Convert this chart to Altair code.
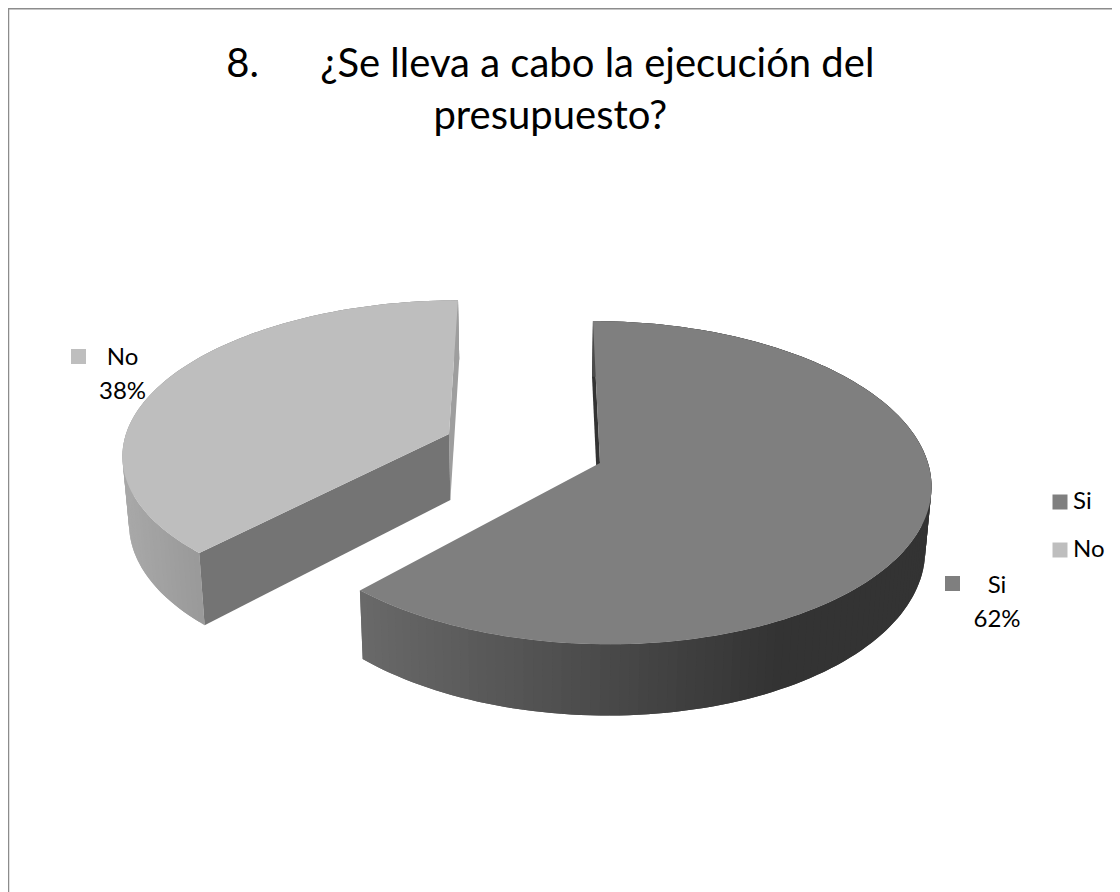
import math
import altair as alt

categories = ["Si", "No"]
values = [62, 38]
title_lines = ["8.\u00a0\u00a0\u00a0\u00a0\u00a0\u00a0¿Se lleva a cabo la ejecución del", "presupuesto?"]

W, H = 1104, 884
FONT = "Lato"
VX, VY = 535.0, -842.0   # vanishing point of the tilted pie
SHRINK = 0.016


def lerp_stops(x, stops):
    if x <= stops[0][0]:
        return stops[0][1]
    for (a, va), (b, vb) in zip(stops, stops[1:]):
        if x <= b:
            return va + (vb - va) * (x - a) / (b - a)
    return stops[-1][1]


def grey(v):
    v = int(round(v))
    return f"#{v:02x}{v:02x}{v:02x}"


def slice_geometry(a0, a1, ax, ay, R, depth, P):
    def top(deg):
        t = math.radians(deg)
        u, v = math.sin(t), -math.cos(t)
        w = 1 - P * v
        return (VX + (ax - VX + R * u) / w, VY + (ay - VY) / w, depth / w)

    def low(pt):
        return (VX + (pt[0] - VX) * (1 - SHRINK), pt[1] + pt[2])

    n = int((a1 - a0) / 1.5) + 1
    angles = [a0 + (a1 - a0) * i / n for i in range(n + 1)]
    rim = [top(a) for a in angles]
    apex = (ax, ay, depth)
    return apex, rim, low


def feature(points, fill, cat=None):
    pts = [[round(p[0], 2), round(p[1], 2)] for p in points]
    pts.append(pts[0])
    return {
        "type": "Feature",
        "geometry": {"type": "Polygon", "coordinates": [pts]},
        "properties": {"fill": fill, "cat": cat or ""},
    }


def rim_strips(rim, low, stops):
    out = []
    for i in range(len(rim) - 1):
        a, b = rim[i], rim[i + 1]
        c = rim[min(i + 2, len(rim) - 1)]  # overlap the next strip so no seam shows
        out.append(feature([a, b, c, low(c), low(b), low(a)], grey(lerp_stops((a[0] + b[0]) / 2, stops))))
    return out


cuts = [0.0, values[0] / sum(values) * 360, 360.0]

si_apex, si_rim, si_low = slice_geometry(cuts[0], cuts[1], 600, 463, 328, 62.5, 0.122)
no_apex, no_rim, no_low = slice_geometry(cuts[1], cuts[2], 449, 434, 323, 66, 0.117)

si_stops = [(360, 0x69), (640, 0x45), (780, 0x33), (940, 0x33)]
no_stops = [(120, 0xa9), (205, 0x98), (460, 0x98)]

walls = [feature([si_apex, si_rim[0], si_low(si_rim[0]), si_low(si_apex)], "#333333")]
walls += rim_strips(si_rim, si_low, si_stops)
walls += rim_strips(no_rim, no_low, no_stops)
walls.append(feature([no_apex, no_rim[-1], no_low(no_rim[-1]), no_low(no_apex)], "#9e9e9e"))
walls.append(feature([no_apex, no_rim[0], no_low(no_rim[0]), no_low(no_apex)], "#747474"))

faces = [
    feature([si_apex] + si_rim, "#7f7f7f", categories[0]),
    feature([no_apex] + no_rim, "#bebebe", categories[1]),
]

PROJ = dict(type="identity", scale=1, translate=[-8, -8])


def geo_data(features):
    return alt.InlineData(
        values={"type": "FeatureCollection", "features": features},
        format=alt.DataFormat(type="json", property="features"),
    )


wall_layer = (
    alt.Chart(geo_data(walls))
    .mark_geoshape(strokeWidth=0)
    .encode(fill=alt.Fill("properties.fill:N", scale=None, legend=None))
    .project(**PROJ)
)

face_layer = (
    alt.Chart(geo_data(faces))
    .mark_geoshape(strokeWidth=0)
    .encode(
        fill=alt.Fill(
            "properties.cat:N",
            scale=alt.Scale(domain=categories, range=["#7f7f7f", "#bebebe"]),
            legend=alt.Legend(
                title=None,
                orient="none",
                legendX=1040,
                legendY=482,
                symbolType="square",
                symbolSize=225,
                symbolStrokeWidth=0,
                labelFont=FONT,
                labelFontSize=24,
                labelColor="#000000",
                labelOffset=1,
                rowPadding=24,
                padding=0,
            ),
        ),
    )
    .project(**PROJ)
)

label_rows = [
    {"cat": categories[0], "text": f"{categories[0]}\n{values[0]}%", "tx": 989, "ty": 585, "kx": 944.5, "ky": 575.5},
    {"cat": categories[1], "text": f"{categories[1]}\n{values[1]}%", "tx": 114.5, "ty": 357, "kx": 70.5, "ky": 348.5},
]

labels = (
    alt.Chart(alt.Data(values=label_rows))
    .mark_text(font=FONT, fontSize=24, lineBreak="\n", lineHeight=33.5, align="center", baseline="alphabetic", color="#000000")
    .encode(x=alt.X("tx:Q", scale=None), y=alt.Y("ty:Q", scale=None), text="text:N")
)

keys = (
    alt.Chart(alt.Data(values=label_rows))
    .mark_square(size=225, opacity=1, strokeWidth=0)
    .encode(
        x=alt.X("kx:Q", scale=None),
        y=alt.Y("ky:Q", scale=None),
        fill=alt.Fill("cat:N", scale=alt.Scale(domain=categories, range=["#7f7f7f", "#bebebe"]), legend=None),
    )
)

border_left = alt.Chart(alt.Data(values=[{"a": 0}])).mark_rule(color="#8c8c8c", strokeWidth=1.5).encode(
    x=alt.value(0.5), y=alt.value(0), y2=alt.value(H)
)
border_top = alt.Chart(alt.Data(values=[{"a": 0}])).mark_rule(color="#8c8c8c", strokeWidth=1.5).encode(
    y=alt.value(0.8), x=alt.value(0), x2=alt.value(W)
)

chart = (
    alt.layer(border_left, border_top, wall_layer, face_layer, keys, labels)
    .resolve_scale(fill="independent")
    .properties(
        width=W,
        height=H,
        padding=0,
        autosize=alt.AutoSizeParams(type="none"),
        title=alt.TitleParams(
            text=title_lines,
            font=FONT,
            fontSize=40,
            fontWeight="normal",
            color="#000000",
            anchor="start",
            align="center",
            baseline="top",
            lineHeight=52,
            offset=0,
            dx=543,
            dy=130,
        ),
    )
    .configure_view(stroke=None)
)

chart.save("out.html", embed_options={"renderer": "svg", "actions": False})
